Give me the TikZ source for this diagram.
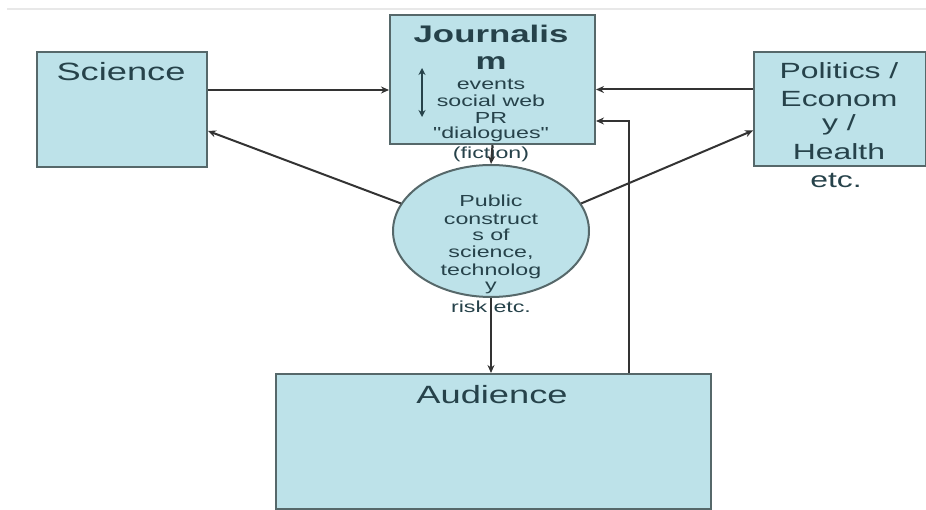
\documentclass[tikz,border=0pt]{standalone}
\usepackage{fontspec}
\setmainfont{Liberation Sans}[FakeStretch=1.45]
\newfontfamily\plainq{Liberation Sans}[FakeStretch=1.45, Ligatures=TeXOff]
\usetikzlibrary{arrows.meta,shapes.geometric}
\definecolor{boxfill}{HTML}{BDE2E9}
\definecolor{boxline}{HTML}{56686A}
\definecolor{txt}{HTML}{26424A}
\definecolor{arr}{HTML}{333333}
\begin{document}
\begin{tikzpicture}[x=1pt,y=-1pt,
  box/.style={draw=boxline, fill=boxfill, line width=2pt, inner sep=0pt, anchor=north west},
  conn/.style={draw=arr, line width=2pt, -{Stealth[length=8pt,width=7pt]}},
  lbl/.style={text=txt, inner sep=0pt, anchor=base},
  big/.style={font=\fontsize{25}{25}\selectfont},
  mid/.style={font=\fontsize{22}{22}\selectfont},
  ttl/.style={font=\fontsize{24}{24}\selectfont\bfseries},
  sml/.style={font=\fontsize{16}{16}\selectfont}]
\useasboundingbox (0,0) rectangle (926,510);
\draw[gray!18, line width=2pt] (7,9) -- (926,9);

% shapes
\node[box, minimum width=170pt, minimum height=115pt] (sci) at (36,51) {};
\node[box, minimum width=205pt, minimum height=129pt] (jour) at (389,14) {};
\node[box, minimum width=172pt, minimum height=114pt] (pol) at (753,51) {};
\node[box, minimum width=435pt, minimum height=135pt] (aud) at (275,373) {};
\node[draw=boxline, fill=boxfill, line width=2pt, ellipse, inner sep=0pt,
      minimum width=196pt, minimum height=132pt] (ell) at (491,231) {};

% texts
\node[lbl, big] (tsci) at (121,81) {Science};
\node[lbl, big] (taud) at (492,403) {Audience};
\node[lbl, ttl] (tj1) at (491,43) {Journalis};
\node[lbl, ttl] (tj2) at (491,70) {m};
\node[lbl, sml] (tj3) at (491,90) {events};
\node[lbl, sml] (tj4) at (491,107) {social web};
\node[lbl, sml] (tj5) at (491,124) {PR};
\node[lbl, sml] (tj6) at (491,139) {\plainq "dialogues"};
\node[lbl, sml] (tj7) at (491,159) {(fiction)};
\node[lbl, mid] (tp1) at (839,79) {Politics /};
\node[lbl, mid] (tp2) at (839,107) {Econom};
\node[lbl, mid] (tp3) at (839,131) {y /};
\node[lbl, mid] (tp4) at (839,160) {Health};
\node[lbl, mid] (tp5) at (836,188) {etc.};
\node[lbl, sml] (te1) at (491,207) {Public};
\node[lbl, sml] (te2) at (491,225) {construct};
\node[lbl, sml] (te3) at (491,241) {s of};
\node[lbl, sml] (te4) at (491,258) {science,};
\node[lbl, sml] (te5) at (491,276) {technolog};
\node[lbl, sml] (te6) at (491,291) {y};
\node[lbl, sml] (te7) at (491,313) {risk etc.};

% double arrow inside journalism
\coordinate (da1) at (422,68);
\coordinate (da2) at (422,117);
\draw[draw=txt, line width=2pt, {Stealth[length=7pt,width=7pt]}-{Stealth[length=7pt,width=7pt]}] (da1) -- (da2);

% connectors
\draw[conn] ([yshift=19.5pt]sci.east) -- ([yshift=19.5pt]sci.east -| jour.west);
\draw[conn] ([yshift=19.5pt]pol.west) -- ([yshift=19.5pt]pol.west -| jour.east);
\draw[conn] ([xshift=135.5pt]aud.north) |- ([yshift=-41.5pt]jour.east);
\draw[conn] (ell.163) -- ([yshift=-21.5pt]sci.east);
\draw[conn] (ell.17) -- ([yshift=-21.5pt]pol.west);
\draw[conn] (jour.south) -- (ell.north);
\draw[conn] (ell.south) -- (ell.south |- aud.north);
\end{tikzpicture}
\end{document}
